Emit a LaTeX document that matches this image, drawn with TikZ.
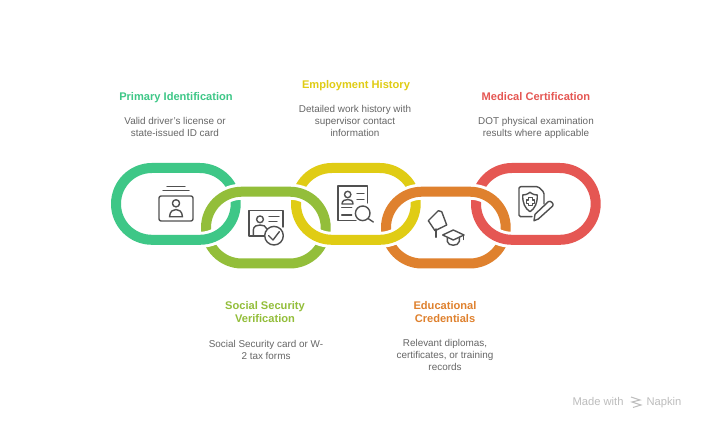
\documentclass[tikz,border=0pt]{standalone}
\usepackage{xcolor}
\usepackage{fontspec}
\setmainfont{Liberation Sans}
\usetikzlibrary{positioning,calc}
\definecolor{linkgreen}{HTML}{3EC787}
\definecolor{linkolive}{HTML}{93BE3A}
\definecolor{linkyellow}{HTML}{E0CC14}
\definecolor{linkorange}{HTML}{DF812E}
\definecolor{linkred}{HTML}{E55753}
\definecolor{icongray}{HTML}{505050}
\definecolor{bodygray}{HTML}{666666}
\definecolor{markgray}{HTML}{BDBDBD}
\tikzset{
  heading/.style={font=\fontsize{11.1}{13}\selectfont\bfseries, align=center, text height=8pt, text depth=2.3pt},
  bodytext/.style={font=\fontsize{9.9}{12}\selectfont, text=bodygray, align=center},
  marktext/.style={font=\fontsize{11.2}{12}\selectfont, text=markgray, anchor=west, text height=8pt, text depth=2.3pt},
  icon/.style={draw=icongray, line width=1.4pt, line cap=round, line join=round},
  casing/.style={draw=white, line width=16pt, rounded corners=35.9pt},
  band/.style={line width=10pt, rounded corners=35.9pt}
}
% one chain link: left, top, colour
\newcommand{\linkring}[3]{
    \draw[casing] (#1,#2) rectangle ++(119.7,71.8);
    \draw[band, draw=#3] (#1,#2) rectangle ++(119.7,71.8);
}
\begin{document}
\begin{tikzpicture}[x=1pt,y=-1pt]
    \useasboundingbox (0,0) rectangle (704,430);
    \fill[white] (0,0) rectangle (704,430);
    % lower links first
    \linkring{206}{191.7}{linkolive}
    \linkring{386}{191.7}{linkorange}
    % upper links over them
    \linkring{116}{168}{linkgreen}
    \linkring{296}{168}{linkyellow}
    \linkring{476}{168}{linkred}
    % top half of the lower links again
    \foreach \x/\c in {206/linkolive, 386/linkorange} {
        \begin{scope}
            \clip (\x-15,170) rectangle (\x+135,215);
            \linkring{\x}{191.7}{\c}
        \end{scope}
    }
    % id card
    \draw[icon, rounded corners=2pt] (159,196) rectangle (193,221);
    \draw[icon] (167,186.7) -- (185,186.7);
    \draw[icon] (163,190.7) -- (189,190.7);
    \draw[icon] (176,203.3) circle (3.6);
    \draw[icon] (169.5,216.8) .. controls (170,211) and (173,209.5) .. (176,209.5) .. controls (179,209.5) and (182,211) .. (182.5,216.8) -- cycle;
    % card with check
    \draw[icon] (264,236) -- (249,236) -- (249,210.7) -- (283,210.7) -- (283,227);
    \draw[icon] (260,219.3) circle (3.4);
    \draw[icon] (253.3,236) -- (253.3,230) .. controls (253.5,226) and (257,225) .. (260,225) .. controls (263,225) and (266,226) .. (267,229);
    \draw[icon] (269,216.7) -- (279,216.7);
    \draw[icon] (269,221.7) -- (277,221.7);
    \draw[icon] (274,235.7) circle (9.3);
    \draw[icon] (268.5,235.5) -- (273,240) -- (279.3,231.7);
    % card with magnifier
    \draw[icon] (356,220.7) -- (338,220.7) -- (338,186) -- (367.3,186) -- (367.3,203);
    \draw[icon] (347.7,194.5) circle (3.2);
    \draw[icon] (342,204) .. controls (342,200.5) and (345,199.5) .. (347.7,199.5) .. controls (350.5,199.5) and (353,200.5) .. (353,204) -- cycle;
    \draw[icon] (357,193.3) -- (364,193.3);
    \draw[icon] (357,199.3) -- (364,199.3);
    \draw[icon] (341.7,207.3) -- (351.7,207.3);
    \draw[icon] (341.7,215) -- (351.7,215);
    \draw[icon] (362.7,213.3) circle (7.3);
    \draw[icon] (368,218.5) -- (373.3,222);
    % pin and cap
    \draw[icon] (438.3,210.7) -- (441.7,211.7) -- (446.7,225) -- (435,230.7) -- (428.3,220.7) -- cycle;
    \draw[icon] (436,229) -- (436,237.3);
    \draw[icon] (442.7,235) -- (453.3,230) -- (464,235) -- (453.3,240) -- cycle;
    \draw[icon] (447.3,237.5) -- (447.3,241.5) .. controls (448,246.5) and (458.5,246.5) .. (459.3,241.5) -- (459.3,237.5);
    \draw[icon] (463.5,235) -- (463.5,239.5);
    % document with shield and pencil
    \draw[icon, rounded corners=1.5pt] (532,216.7) -- (519,216.7) -- (519,186.7) -- (538.3,186.7) -- (544,192.3) -- (544,204);
    \draw[icon] (530,192.3) .. controls (527,194.5) and (525,195) .. (522.7,195) .. controls (522.5,203) and (525,208.5) .. (530,211.7) .. controls (535,208.5) and (537.5,203) .. (537.3,195) .. controls (535,195) and (533,194.5) .. (530,192.3) -- cycle;
    \draw[icon, line width=1.1pt] (528.5,197.7) -- (532.5,197.7) -- (532.5,200) -- (534.7,200) -- (534.7,203.5) -- (532.5,203.5) -- (532.5,205.8) -- (528.5,205.8) -- (528.5,203.5) -- (526.3,203.5) -- (526.3,200) -- (528.5,200) -- cycle;
    \draw[icon] (534,220.7) -- (535,214.3) -- (548.3,201.7) .. controls (550.5,200) and (554.5,204) .. (552.7,206) -- (538.3,219) -- cycle;
    % headings
    \node[heading, text=linkgreen] (primaryhead) at (176,97.5) {Primary Identification};
    \node[heading, text=linkyellow] (employmenthead) at (356,85.5) {Employment History};
    \node[heading, text=linkred] (medicalhead) at (536,97.5) {Medical Certification};
    \node[heading, text=linkolive] (socialhead) at (265,320) {Social Security\\Verification};
    \node[heading, text=linkorange] (educationhead) at (445,320) {Educational\\Credentials};
    % descriptions
    \node[bodytext] (primarytext) at (175,127) {Valid driver's license or\\state-issued ID card};
    \node[bodytext] (employmenttext) at (355,121) {Detailed work history with\\supervisor contact\\information};
    \node[bodytext] (medicaltext) at (536,127.5) {DOT physical examination\\results where applicable};
    \node[bodytext] (socialtext) at (266,349.5) {Social Security card or W-\\2 tax forms};
    \node[bodytext] (educationtext) at (445,355) {Relevant diplomas,\\certificates, or training\\records};
    % watermark
    \node[marktext] (madewith) at (569,402.5) {Made with};
    \node[marktext] (napkin) at (643,402.5) {Napkin};
    \draw[markgray, line width=1pt] (631,397) -- (640,400) -- (632,402) -- (641,405) -- (633,407.5);
\end{tikzpicture}
\end{document}
